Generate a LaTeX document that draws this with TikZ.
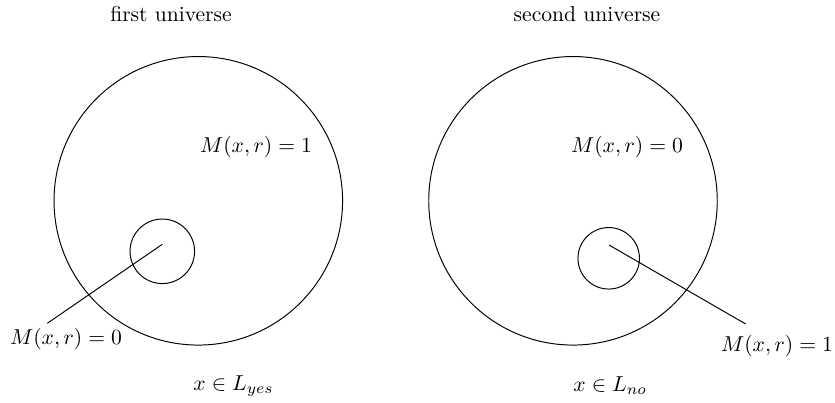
\documentclass[tikz,border=0pt]{standalone}
\begin{document}
\begin{tikzpicture}[x=0.4634pt,y=-0.4634pt,
  bigc/.style={draw,circle,inner sep=0pt,minimum size=133.7pt,line width=0.45pt},
  smallc/.style={draw,circle,inner sep=0pt,line width=0.45pt},
  lbl/.style={inner sep=0pt},
  conn/.style={line width=0.45pt}]
\useasboundingbox (0,0) rectangle (835,402);
% titles
\node[lbl] (t1) at (171,14) {first universe};
\node[lbl] (t2) at (587,14) {second universe};
% big circles
\node[bigc] (U1) at (198.3,200.8) {};
\node[bigc] (U2) at (573,200.8) {};
% small circles
\node[smallc,minimum size=29.9pt] (s1) at (162.3,251.3) {};
\node[smallc,minimum size=28.5pt] (s2) at (608.7,258.3) {};
% inner labels
\node[lbl] (m1) at (256,147) {$M(x,r)=1$};
\node[lbl] (m2) at (627,147) {$M(x,r)=0$};
% outer labels
\node[lbl] (o1) at (66,339) {$M(x,r)=0$};
\node[lbl] (o2) at (777,346) {$M(x,r)=1$};
% bottom labels
\node[lbl,anchor=west] (b1) at (193,386) {$x\in L_{yes}$};
\node[lbl,anchor=west] (b2) at (573,386) {$x\in L_{no}$};
% connectors
\coordinate (p1) at (162.3,244.3);
\coordinate (q1) at (47.3,323.3);
\coordinate (p2) at (609,245);
\coordinate (q2) at (745.7,324);
\draw[conn] (p1) -- (q1);
\draw[conn] (p2) -- (q2);
\end{tikzpicture}
\end{document}
